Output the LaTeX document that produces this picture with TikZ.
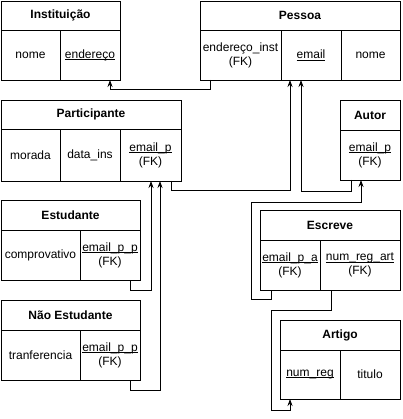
\documentclass[tikz,border=0pt]{standalone}
\usepackage{fontspec}
\setmainfont{Liberation Sans}
\usetikzlibrary{positioning,arrows.meta}
\newcommand{\pk}[1]{\setbox0\hbox{#1}\rlap{\rule[-1.6pt]{\wd0}{0.6pt}}\box0}

\begin{document}
\begin{tikzpicture}[
  x=1pt, y=-1pt,
  font=\fontsize{12}{14}\selectfont,
  box/.style={draw, line width=0.8pt, outer sep=0pt, inner sep=1pt, align=center},
  hdr/.style={box, font=\fontsize{12}{14}\selectfont\bfseries, anchor=north west, minimum height=29pt},
  cell/.style={box, minimum height=50pt},
  fk/.style={draw, line width=0.8pt, -{Stealth[length=7pt,width=5pt]}},
]
\useasboundingbox (0,0) rectangle (402,419);
% ---------- Instituicao ----------
\node[hdr, minimum width=119pt] (ins) at (1,1) {Instituição};
\node[cell, minimum width=59pt, below right=0pt of ins.south west] (ins_nome) {nome};
\node[cell, minimum width=60pt, right=0pt of ins_nome] (ins_end) {\pk{endereço}};
% ---------- Pessoa ----------
\node[hdr, minimum width=200pt] (pes) at (200,1) {Pessoa};
\node[cell, minimum width=81pt, below right=0pt of pes.south west] (pes_einst) {endereço\_inst\\(FK)};
\node[cell, minimum width=60pt, right=0pt of pes_einst] (pes_email) {\pk{email}};
\node[cell, minimum width=59pt, right=0pt of pes_email] (pes_nome) {nome};
% ---------- Participante ----------
\node[hdr, minimum width=180pt] (par) at (1,100) {Participante};
\node[cell, minimum width=59pt, minimum height=52pt, below right=0pt of par.south west] (par_mor) {morada};
\node[cell, minimum width=60pt, minimum height=52pt, right=0pt of par_mor] (par_data) {data\_ins};
\node[cell, minimum width=61pt, minimum height=52pt, right=0pt of par_data] (par_email) {\pk{email\_p}\\(FK)};
% ---------- Autor ----------
\node[hdr, minimum width=60pt, minimum height=30pt] (aut) at (340,100) {Autor};
\node[cell, minimum width=60pt, below right=0pt of aut.south west] (aut_email) {\pk{email\_p}\\(FK)};
% ---------- Estudante ----------
\node[hdr, minimum width=139pt, minimum height=30pt] (est) at (1,200) {Estudante};
\node[cell, minimum width=79pt, below right=0pt of est.south west] (est_comp) {comprovativo};
\node[cell, minimum width=60pt, right=0pt of est_comp] (est_fk) {\pk{email\_p\_p}\\(FK)};
% ---------- Nao Estudante ----------
\node[hdr, minimum width=139pt, minimum height=30pt] (nes) at (1,300) {Não Estudante};
\node[cell, minimum width=79pt, below right=0pt of nes.south west] (nes_tran) {tranferencia};
\node[cell, minimum width=60pt, right=0pt of nes_tran] (nes_fk) {\pk{email\_p\_p}\\(FK)};
% ---------- Escreve ----------
\node[hdr, minimum width=140pt, minimum height=30pt] (esc) at (260,210) {Escreve};
\node[cell, minimum width=60pt, below right=0pt of esc.south west] (esc_ea) {\pk{email\_p\_a}\\(FK)};
\node[cell, minimum width=80pt, right=0pt of esc_ea] (esc_nr) {\pk{num\_reg\_art}\\(FK)};
% ---------- Artigo ----------
\node[hdr, minimum width=120pt, minimum height=30pt] (art) at (280,320) {Artigo};
\node[cell, minimum width=60pt, minimum height=49pt, below right=0pt of art.south west] (art_num) {\pk{num\_reg}};
\node[cell, minimum width=60pt, minimum height=49pt, right=0pt of art_num] (art_tit) {titulo};
% ---------- chaves estrangeiras ----------
\draw[fk] ([xshift=-30.5pt]pes_einst.south) -- ++(0,9) -| ([xshift=20pt]ins_end.south);
\draw[fk] ([xshift=20.5pt]par_email.south) -- ++(0,9) -| ([xshift=-21pt]pes_email.south);
\draw[fk] ([xshift=-19pt]aut_email.south) -- ++(0,11) -| ([xshift=-10pt]pes_email.south);
\draw[fk] ([xshift=20pt]est_fk.south) -- ++(0,10) -| ([xshift=0.5pt]par_email.south);
\draw[fk] ([xshift=20pt]nes_fk.south) -- ++(0,10) -| ([xshift=9.5pt]par_email.south);
\draw[fk] ([xshift=-19pt]esc_ea.south) -- ++(0,9) -- ++(-20,0) -- ++(0,-97) -| ([xshift=-9pt]aut_email.south);
\draw[fk] ([xshift=-29pt]esc_nr.south) -- ++(0,20) -- ++(-60,0) -- ++(0,100) -| ([xshift=-20pt]art_num.south);
\end{tikzpicture}
\end{document}
